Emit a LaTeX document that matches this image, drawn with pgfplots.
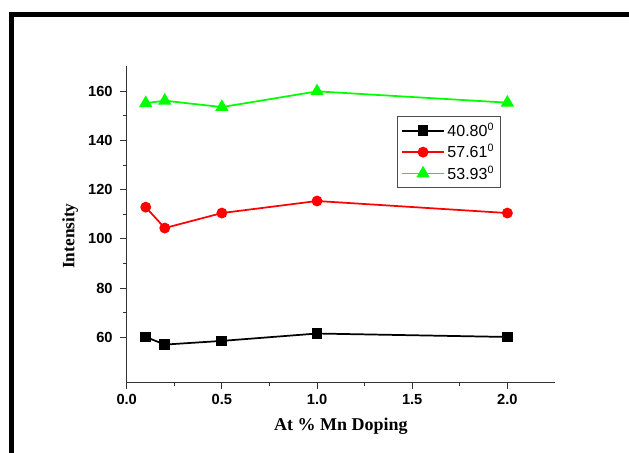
\documentclass[border=0pt]{standalone}
\usepackage{fontspec}
\setmainfont{Liberation Sans}
\newfontfamily\timesfont{Liberation Serif}
\usepackage{pgfplots}
\pgfplotsset{compat=1.18}
\definecolor{lgreen}{HTML}{00FF00}
\definecolor{lred}{HTML}{FF0000}

\begin{document}
\begin{tikzpicture}[x=0.75pt, y=0.75pt]
% page = 629 x 453 px, y measured from the bottom
\useasboundingbox (0,0) rectangle (629,453);
\draw[line width=3.6pt] (9,438.5) -- (629,438.5);
\draw[line width=4.2pt] (11.5,438.5) -- (11.5,0);
\coordinate (O) at (126.7,70.3);
\begin{axis}[
  at={(O)}, anchor=south west,
  scale only axis, width=321.2pt, height=237.5pt,
  xmin=0, xmax=2.25, ymin=41.5, ymax=170.3,
  axis x line*=bottom, axis y line*=left,
  axis line style={line width=0.8pt, black!80},
  xtick={0,0.5,...,2}, minor x tick num=1,
  ytick={60,80,...,160}, minor y tick num=1,
  tick align=outside,
  major tick length=5pt, minor tick length=2.6pt,
  every tick/.style={black!80, line width=0.8pt},
  /pgf/number format/assume math mode=true,
  tick label style={font=\bfseries\fontsize{11}{13}\selectfont},
  xticklabel style={/pgf/number format/.cd, fixed, fixed zerofill, precision=1},
  yticklabel style={xshift=-2pt},
  xlabel={At \% Mn Doping},
  ylabel={Intensity},
  xlabel style={font=\timesfont\bfseries\fontsize{13.5}{15}\selectfont,
    at={(axis description cs:0.5,-0.139)}, anchor=center},
  ylabel style={font=\timesfont\bfseries\fontsize{13}{15}\selectfont,
    at={(axis description cs:-0.132,0.463)}, anchor=center, rotate=0},
  legend style={at={(axis description cs:0.631,0.842)}, anchor=north west,
    draw=black!70, line width=0.6pt, font=\fontsize{12}{13}\selectfont,
    row sep=0.6pt, inner xsep=3pt, inner ysep=3pt},
  legend cell align=left,
  legend image code/.code={\draw[#1, mark repeat=2, mark phase=2]
    plot coordinates {(0cm,0cm) (0.55cm,0cm) (1.1cm,0cm)};},
]
\addplot[black, line width=1.3pt, mark=square*, mark size=3.4pt,
  mark options={solid, fill=black}]
  coordinates {(0.1,60.1) (0.2,57.0) (0.5,58.5) (1.0,61.5) (2.0,60.1)};
\addlegendentry{40.80\textsuperscript{0}}
\addplot[lred, line width=1.3pt, mark=*, mark size=3.4pt,
  mark options={solid, fill=lred}]
  coordinates {(0.1,112.9) (0.2,104.4) (0.5,110.5) (1.0,115.4) (2.0,110.5)};
\addlegendentry{57.61\textsuperscript{0}}
\addplot[lgreen, line width=1.3pt, mark=triangle*, mark size=4.5pt,
  mark options={solid, fill=lgreen}]
  coordinates {(0.1,155.2) (0.2,156.2) (0.5,153.6) (1.0,160.0) (2.0,155.4)};
\addlegendentry{53.93\textsuperscript{0}}
\end{axis}
\end{tikzpicture}
\end{document}
